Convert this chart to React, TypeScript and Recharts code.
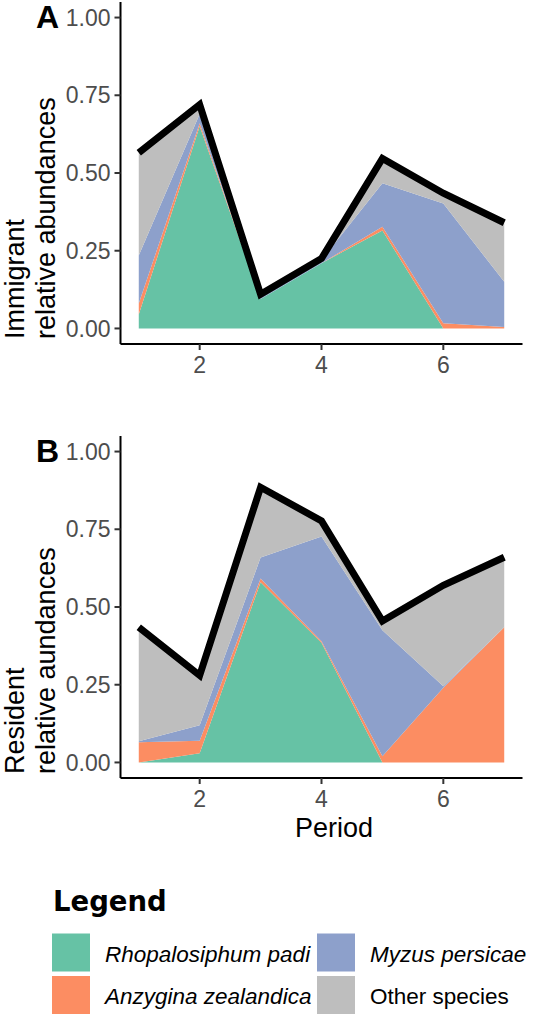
import { ComposedChart, Area, Line, XAxis, YAxis } from "recharts";

const periods = [1, 2, 3, 4, 5, 6, 7];

// panel A - immigrants
const immRpadi = [0.045, 0.65, 0.095, 0.21, 0.315, 0, 0];
const immAzeal = [0.035, 0.01, 0.0, 0.0, 0.012, 0.017, 0.005];
const immMpers = [0.155, 0.03, 0.005, 0.01, 0.14, 0.385, 0.145];
const immOther = [0.33, 0.03, 0.01, 0.005, 0.08, 0.033, 0.19];

// panel B - residents
const resRpadi = [0.0, 0.03, 0.58, 0.385, 0.0, 0, 0];
const resAzeal = [0.065, 0.04, 0.012, 0.005, 0.02, 0.24, 0.435];
const resMpers = [0.003, 0.05, 0.067, 0.337, 0.405, 0.005, 0.0];
const resOther = [0.367, 0.16, 0.226, 0.05, 0.03, 0.325, 0.225];

const xTicks = [2, 4, 6];
const yTicks = [0, 0.25, 0.5, 0.75, 1];

const species = [
  { key: "rpadi", name: "Rhopalosiphum padi", color: "#66c2a5", italic: true },
  { key: "azeal", name: "Anzygina zealandica", color: "#fc8d62", italic: true },
  { key: "mpers", name: "Myzus persicae", color: "#8da0cb", italic: true },
  { key: "other", name: "Other species", color: "#bebebe", italic: false },
];

const FONT = "'Liberation Sans', Arial, Helvetica, sans-serif";

const buildRows = (r: number[], a: number[], m: number[], o: number[]) =>
  periods.map((p, i) => ({
    period: p,
    rpadi: r[i],
    azeal: a[i],
    mpers: m[i],
    other: o[i],
    total: r[i] + a[i] + m[i] + o[i],
  }));

const immData = buildRows(immRpadi, immAzeal, immMpers, immOther);
const resData = buildRows(resRpadi, resAzeal, resMpers, resOther);

const tickStyle = { fontSize: 23, fill: "#4d4d4d", fontFamily: FONT };

const Panel = ({ data }: { data: any[] }) => (
  <ComposedChart width={544} height={400} data={data} margin={{ top: 2, right: 21.5, bottom: 16, left: 0 }}>
    <XAxis
      dataKey="period"
      type="number"
      domain={[0.7, 7.3]}
      ticks={xTicks}
      height={40}
      allowDataOverflow
      axisLine={{ stroke: "#000", strokeWidth: 2 }}
      tickLine={{ stroke: "#333", strokeWidth: 2 }}
      tickSize={6}
      tickMargin={7}
      tick={tickStyle}
    />
    <YAxis
      type="number"
      domain={[-0.05, 1.05]}
      ticks={yTicks}
      width={120.5}
      allowDataOverflow
      axisLine={{ stroke: "#000", strokeWidth: 2 }}
      tickLine={{ stroke: "#333", strokeWidth: 2 }}
      tickSize={6}
      tickMargin={4}
      tick={tickStyle}
      tickFormatter={(v: number) => v.toFixed(2)}
    />
    {species.map((s) => (
      <Area
        key={s.key}
        type="linear"
        dataKey={s.key}
        stackId="1"
        fill={s.color}
        fillOpacity={1}
        stroke="none"
        isAnimationActive={false}
      />
    ))}
    <Line
      type="linear"
      dataKey="total"
      stroke="#000"
      strokeWidth={7}
      strokeLinejoin="miter"
      dot={false}
      activeDot={false}
      isAnimationActive={false}
    />
  </ComposedChart>
);

const App = () => {
  return (
    <div style={{ position: "absolute", left: 0, top: 0, width: 544, height: 1015, background: "#fff", fontFamily: FONT }}>
      <div style={{ position: "absolute", left: 0, top: 0 }}>
        <Panel data={immData} />
      </div>
      <div style={{ position: "absolute", left: 0, top: 434 }}>
        <Panel data={resData} />
      </div>
      <svg width={544} height={1015} style={{ position: "absolute", left: 0, top: 0, pointerEvents: "none" }}>
        <g fontFamily={FONT} fill="#000">
          <text x={36} y={28} fontSize={32} fontWeight="bold">A</text>
          <text x={36} y={462} fontSize={32} fontWeight="bold">B</text>

          <g fontSize={27}>
            <text transform="rotate(-90)" x={-339} y={24}>Immigrant</text>
            <text transform="rotate(-90)" x={-339} y={55}>relative abundances</text>
            <text transform="rotate(-90)" x={-774} y={24}>Resident</text>
            <text transform="rotate(-90)" x={-774} y={55}>relative aundances</text>
            <text x={334} y={837} textAnchor="middle">Period</text>
          </g>

          <text x={53} y={911} fontSize={27.5} fontWeight="bold" fontFamily="'DejaVu Sans', Verdana, sans-serif">
            Legend
          </text>
          {species.map((s, i) => {
            const col = i < 2 ? 0 : 1;
            const row = i % 2;
            const x = col === 0 ? 52 : 317;
            const y = row === 0 ? 933.5 : 976;
            return (
              <g key={s.key}>
                <rect x={x} y={y} width={38} height={38} fill={s.color} />
                <text x={x + 53} y={y + 28} fontSize={22.5} fontStyle={s.italic ? "italic" : "normal"}>
                  {s.name}
                </text>
              </g>
            );
          })}
        </g>
      </svg>
    </div>
  );
};

export default App;
